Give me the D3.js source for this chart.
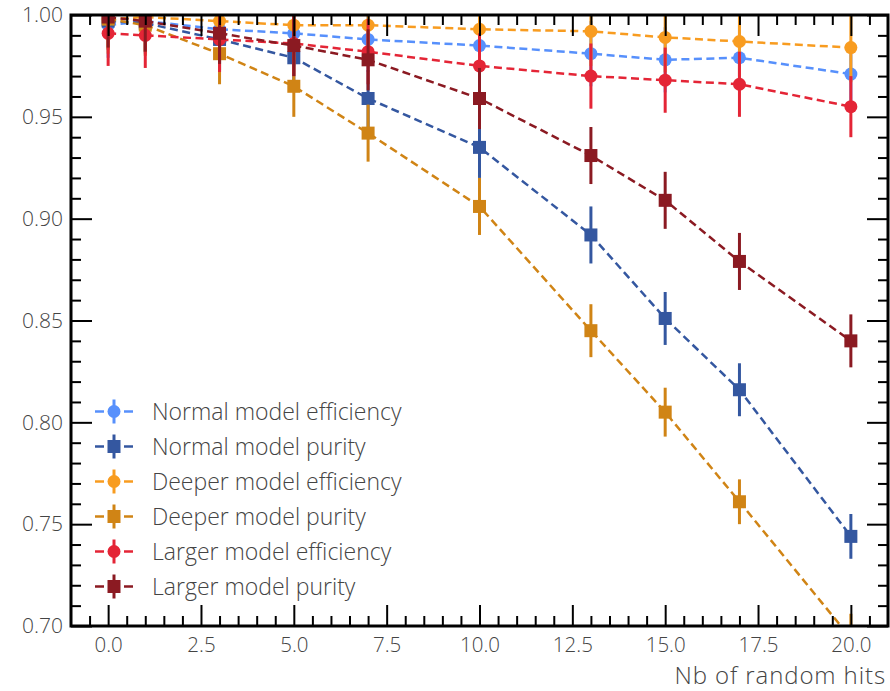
<!DOCTYPE html>
<html><head><meta charset="utf-8">
<script src="https://cdn.jsdelivr.net/npm/d3@7"></script>
<style>
body{margin:0;background:#fff;}
text{font-family:"Open Sans", Lato, sans-serif;font-weight:300;}
</style></head>
<body><svg id="c" width="890" height="691"></svg>
<script>
const xs = [0, 1, 3, 5, 7, 10, 13, 15, 17, 20];
const normalEff    = [0.995, 0.997, 0.993, 0.991, 0.988, 0.985, 0.981, 0.978, 0.979, 0.971];
const normalEffErr = [0.016, 0.016, 0.016, 0.016, 0.016, 0.016, 0.016, 0.016, 0.016, 0.016];
const normalPur    = [0.997, 0.996, 0.988, 0.979, 0.959, 0.935, 0.892, 0.851, 0.816, 0.744];
const normalPurErr = [0.014, 0.014, 0.015, 0.015, 0.014, 0.015, 0.014, 0.013, 0.013, 0.011];
const deeperEff    = [0.998, 0.999, 0.997, 0.995, 0.995, 0.993, 0.992, 0.989, 0.987, 0.984];
const deeperEffErr = [0.017, 0.017, 0.017, 0.017, 0.017, 0.017, 0.017, 0.017, 0.017, 0.017];
const deeperPur    = [0.998, 0.995, 0.981, 0.965, 0.942, 0.906, 0.845, 0.805, 0.761, 0.694];
const deeperPurErr = [0.015, 0.015, 0.015, 0.015, 0.014, 0.014, 0.013, 0.012, 0.011, 0.012];
const largerEff    = [0.991, 0.990, 0.988, 0.986, 0.982, 0.975, 0.970, 0.968, 0.966, 0.955];
const largerEffErr = [0.016, 0.016, 0.016, 0.016, 0.016, 0.016, 0.016, 0.016, 0.016, 0.015];
const largerPur    = [0.999, 0.997, 0.991, 0.985, 0.978, 0.959, 0.931, 0.909, 0.879, 0.840];
const largerPurErr = [0.015, 0.015, 0.015, 0.015, 0.015, 0.015, 0.014, 0.014, 0.014, 0.013];
const seriesNames = ["Normal model efficiency", "Normal model purity", "Deeper model efficiency",
                     "Deeper model purity", "Larger model efficiency", "Larger model purity"];
const xTicks = [0, 2.5, 5, 7.5, 10, 12.5, 15, 17.5, 20];
const yTicks = [0.70, 0.75, 0.80, 0.85, 0.90, 0.95, 1.00];
const xLabel = "Nb of random hits";

const series = [
  {name: seriesNames[0], v: normalEff, e: normalEffErr, color: "#5790fc", shape: "circle"},
  {name: seriesNames[1], v: normalPur, e: normalPurErr, color: "#3457a0", shape: "square"},
  {name: seriesNames[2], v: deeperEff, e: deeperEffErr, color: "#f89c20", shape: "circle"},
  {name: seriesNames[3], v: deeperPur, e: deeperPurErr, color: "#d08415", shape: "square"},
  {name: seriesNames[4], v: largerEff, e: largerEffErr, color: "#e42536", shape: "circle"},
  {name: seriesNames[5], v: largerPur, e: largerPurErr, color: "#8b1a22", shape: "square"}
];

const L = 71, T = 15, R = 888, B = 626;
const svg = d3.select("#c");
const x = d3.scaleLinear().domain([-1, 21]).range([L, R]);
const y = d3.scaleLinear().domain([0.70, 1.00]).range([B, T]);

svg.append("defs").append("clipPath").attr("id", "clip")
  .append("rect").attr("x", L).attr("y", T).attr("width", R - L).attr("height", B - T);

const plot = svg.append("g").attr("clip-path", "url(#clip)");
const line = d3.line().x((d, i) => x(xs[i])).y(d => y(d));

series.forEach(s => {
  const g = plot.append("g");
  g.append("path").datum(s.v).attr("d", line).attr("fill", "none")
    .attr("stroke", s.color).attr("stroke-width", 2.5).attr("stroke-dasharray", "8,4.5");
  g.selectAll("line.err").data(s.v).join("line")
    .attr("x1", (d, i) => x(xs[i])).attr("x2", (d, i) => x(xs[i]))
    .attr("y1", (d, i) => y(d - s.e[i])).attr("y2", (d, i) => y(d + s.e[i]))
    .attr("stroke", s.color).attr("stroke-width", 3);
  if (s.shape === "circle") {
    g.selectAll("circle").data(s.v).join("circle")
      .attr("cx", (d, i) => x(xs[i])).attr("cy", d => y(d)).attr("r", 6.5).attr("fill", s.color);
  } else {
    g.selectAll("rect").data(s.v).join("rect")
      .attr("x", (d, i) => x(xs[i]) - 6.5).attr("y", d => y(d) - 6.5)
      .attr("width", 13).attr("height", 13).attr("fill", s.color);
  }
});

// axes
const xMinor = d3.range(-0.5, 21, 0.5).filter(v => Math.abs(v / 2.5 - Math.round(v / 2.5)) > 1e-6);
const yMinor = d3.range(70, 101, 1).map(v => v / 100).filter(v => Math.round(v * 100) % 5 !== 0);
const txtColor = "#444";

function styleAxis(g) { g.select(".domain").remove(); g.selectAll(".tick line").attr("stroke", "#000").attr("stroke-width", 2); }

const axB = svg.append("g").attr("transform", `translate(0,${B})`)
  .call(d3.axisBottom(x).tickValues(xTicks).tickSize(-21).tickPadding(11).tickFormat(d3.format(".1f")));
axB.call(styleAxis);
axB.selectAll("text").attr("font-size", 20.5).attr("fill", txtColor).attr("font-family", null);
svg.append("g").attr("transform", `translate(0,${B})`)
  .call(d3.axisBottom(x).tickValues(xMinor).tickSize(-10).tickFormat("")).call(styleAxis);
svg.append("g").attr("transform", `translate(0,${T})`)
  .call(d3.axisTop(x).tickValues(xTicks).tickSize(-21).tickFormat("")).call(styleAxis);
svg.append("g").attr("transform", `translate(0,${T})`)
  .call(d3.axisTop(x).tickValues(xMinor).tickSize(-10).tickFormat("")).call(styleAxis);

const axL = svg.append("g").attr("transform", `translate(${L},0)`)
  .call(d3.axisLeft(y).tickValues(yTicks).tickSize(-21).tickPadding(8).tickFormat(d3.format(".2f")));
axL.call(styleAxis);
axL.selectAll("text").attr("font-size", 21).attr("fill", txtColor).attr("font-family", null);
svg.append("g").attr("transform", `translate(${L},0)`)
  .call(d3.axisLeft(y).tickValues(yMinor).tickSize(-10).tickFormat("")).call(styleAxis);
svg.append("g").attr("transform", `translate(${R},0)`)
  .call(d3.axisRight(y).tickValues(yTicks).tickSize(-21).tickFormat("")).call(styleAxis);
svg.append("g").attr("transform", `translate(${R},0)`)
  .call(d3.axisRight(y).tickValues(yMinor).tickSize(-10).tickFormat("")).call(styleAxis);

svg.append("rect").attr("x", L).attr("y", T).attr("width", R - L).attr("height", B - T)
  .attr("fill", "none").attr("stroke", "#000").attr("stroke-width", 3);

svg.append("text").attr("x", 886).attr("y", 684).attr("text-anchor", "end")
  .attr("font-size", 24).attr("letter-spacing", 0.9).attr("fill", txtColor).text(xLabel);

// legend
const leg = svg.append("g");
series.forEach((s, i) => {
  const cy = 411.5 + i * 35;
  const g = leg.append("g");
  g.append("line").attr("x1", 95).attr("x2", 104).attr("y1", cy).attr("y2", cy).attr("stroke", s.color).attr("stroke-width", 2.5);
  g.append("line").attr("x1", 124).attr("x2", 133).attr("y1", cy).attr("y2", cy).attr("stroke", s.color).attr("stroke-width", 2.5);
  g.append("line").attr("x1", 114).attr("x2", 114).attr("y1", cy - 12).attr("y2", cy + 12).attr("stroke", s.color).attr("stroke-width", 3);
  if (s.shape === "circle") g.append("circle").attr("cx", 114).attr("cy", cy).attr("r", 6.5).attr("fill", s.color);
  else g.append("rect").attr("x", 107.5).attr("y", cy - 6.5).attr("width", 13).attr("height", 13).attr("fill", s.color);
  g.append("text").attr("x", 152).attr("y", cy).attr("dy", "0.35em").attr("font-size", 23)
    .attr("fill", txtColor).text(s.name);
});
</script></body></html>
